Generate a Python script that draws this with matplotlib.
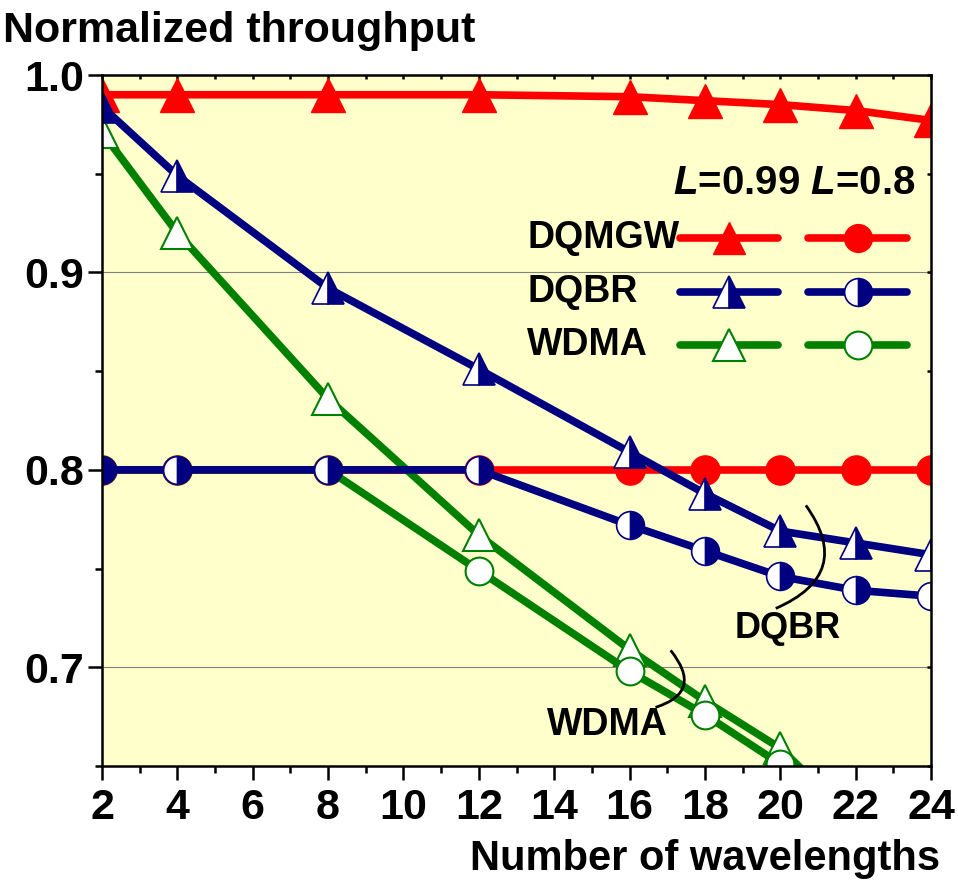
import matplotlib
matplotlib.use("Agg")
import matplotlib.pyplot as plt
from matplotlib.path import Path
from matplotlib.patches import PathPatch
from matplotlib.ticker import MultipleLocator

plt.rcParams['font.family'] = ['Liberation Sans', 'DejaVu Sans']
plt.rcParams['font.weight'] = 'bold'
plt.rcParams['mathtext.fontset'] = 'custom'
plt.rcParams['mathtext.it'] = 'Liberation Sans:italic:bold'
plt.rcParams['mathtext.rm'] = 'Liberation Sans:bold'

# ---------------- data ----------------
x_all = [2, 4, 8, 12, 16, 18, 20, 22, 24]
dqmgw_099 = [0.990, 0.990, 0.990, 0.990, 0.989, 0.987, 0.985, 0.982, 0.977]
dqmgw_08 = [0.800, 0.800, 0.800, 0.800, 0.800, 0.800, 0.800, 0.800, 0.800]
dqbr_099 = [0.984, 0.949, 0.892, 0.851, 0.809, 0.788, 0.769, 0.763, 0.757]
dqbr_08 = [0.800, 0.800, 0.800, 0.800, 0.772, 0.759, 0.746, 0.739, 0.736]
x_wdma = [2, 4, 8, 12, 16, 18, 20, 22]
wdma_099 = [0.971, 0.920, 0.836, 0.767, 0.709, 0.683, 0.659, 0.622]
wdma_08 = [0.800, 0.800, 0.800, 0.749, 0.698, 0.676, 0.651, 0.626]

x_ticks = [2, 4, 6, 8, 10, 12, 14, 16, 18, 20, 22, 24]
y_ticks = [0.7, 0.8, 0.9, 1.0]
series_names = ["DQMGW", "DQBR", "WDMA"]

RED = '#FF0000'
NAVY = '#000080'
GREEN = '#008000'
BG = '#FFFFCC'

fig = plt.figure(figsize=(9.58, 8.81), dpi=100)
ax = fig.add_axes([102/958, 1-766/881, 829/958, 691/881])
ax.set_facecolor(BG)

LW = 5.5
MS_T = 23.5
MS_C = 20

# DQMGW
ax.plot(x_all, dqmgw_08, color=RED, lw=LW, marker='o', ms=MS_C + 1,
        mfc=RED, mec=RED, zorder=3)
ax.plot(x_all, dqmgw_099, color=RED, lw=LW, marker='^', ms=MS_T + 1,
        mfc=RED, mec=RED, zorder=3)
# WDMA
ax.plot(x_wdma, wdma_099, color=GREEN, lw=LW, marker='^', ms=MS_T,
        mfc='white', mec=GREEN, mew=1.5, zorder=4)
ax.plot(x_wdma, wdma_08, color=GREEN, lw=LW, marker='o', ms=MS_C,
        mfc='white', mec=GREEN, mew=1.5, zorder=4)
# DQBR
ax.plot(x_all, dqbr_099, color=NAVY, lw=LW, marker='^', ms=MS_T,
        fillstyle='right', mfc=NAVY, mfcalt='white', mec=NAVY, mew=1.2, zorder=5)
ax.plot(x_all, dqbr_08, color=NAVY, lw=LW, marker='o', ms=MS_C,
        fillstyle='right', mfc=NAVY, mfcalt='white', mec=NAVY, mew=1.2, zorder=5)

ax.set_xlim(2, 24)
ax.set_ylim(0.65, 1.0)
ax.set_xticks(x_ticks)
ax.set_xticklabels([str(v) for v in x_ticks])
ax.set_yticks(y_ticks)
ax.set_yticklabels([f"{v:.1f}" for v in y_ticks])
ax.xaxis.set_minor_locator(MultipleLocator(1))
ax.yaxis.set_minor_locator(MultipleLocator(0.05))

ax.grid(axis='y', which='major', color='#808080', lw=0.8, zorder=1)
ax.set_axisbelow(True)

for s in ax.spines.values():
    s.set_linewidth(1.8)
    s.set_color('black')
    s.set_zorder(10)

ax.tick_params(axis='both', which='major', labelsize=31, width=1.8, length=10,
               direction='out', pad=6)
ax.tick_params(axis='both', which='minor', width=1.8, length=5, direction='out')
ax.tick_params(axis='y', pad=3)
ax.tick_params(which='both', top=True, right=True)
for t in ax.xaxis.get_major_ticks() + ax.xaxis.get_minor_ticks():
    t.tick2line.set_marker(matplotlib.lines.TICKDOWN)
    t.tick2line.set_markersize(3)
for t in ax.yaxis.get_major_ticks() + ax.yaxis.get_minor_ticks():
    t.tick2line.set_marker(matplotlib.lines.TICKLEFT)
    t.tick2line.set_markersize(3)

# axis titles
fig.text(3/958, 1-42/881, "Normalized throughput", fontsize=31,
         fontweight='bold', ha='left', va='baseline')
fig.text(940/958, 1-870/881, "Number of wavelengths", fontsize=30,
         fontweight='bold', ha='right', va='baseline')

# manual legend
rows_y = [0.764, 0.686, 0.609]
col1 = (0.697, 0.815)
col2 = (0.852, 0.971)
styles_099 = [
    dict(color=RED, marker='^', ms=MS_T, mfc=RED, mec=RED),
    dict(color=NAVY, marker='^', ms=MS_T, fillstyle='right', mfc=NAVY,
         mfcalt='white', mec=NAVY, mew=1.2),
    dict(color=GREEN, marker='^', ms=MS_T, mfc='white', mec=GREEN, mew=1.5),
]
styles_08 = [
    dict(color=RED, marker='o', ms=MS_C, mfc=RED, mec=RED),
    dict(color=NAVY, marker='o', ms=MS_C, fillstyle='right', mfc=NAVY,
         mfcalt='white', mec=NAVY, mew=1.2),
    dict(color=GREEN, marker='o', ms=MS_C, mfc='white', mec=GREEN, mew=1.5),
]
for name, yy, s1, s2 in zip(series_names, rows_y, styles_099, styles_08):
    ax.plot(col1, [yy, yy], transform=ax.transAxes, lw=LW,
            solid_capstyle='round', clip_on=False, zorder=6, color=s1['color'])
    ax.plot([(col1[0]+col1[1])/2], [yy], transform=ax.transAxes, ls='none',
            clip_on=False, zorder=7, **s1)
    ax.plot(col2, [yy, yy], transform=ax.transAxes, lw=LW,
            solid_capstyle='round', clip_on=False, zorder=6, color=s2['color'])
    ax.plot([(col2[0]+col2[1])/2], [yy], transform=ax.transAxes, ls='none',
            clip_on=False, zorder=7, **s2)
    ax.text(0.513, yy, name, transform=ax.transAxes, fontsize=27,
            fontweight='bold', ha='left', va='center', zorder=8)

ax.text(0.981, 0.844, r"$L$=0.99 $L$=0.8", transform=ax.transAxes,
        fontsize=29, fontweight='bold', ha='right', va='center', zorder=8)

# annotations with curved brackets
arc_dqbr = Path([(20.68, 0.782), (21.98, 0.7473), (19.88, 0.7298)],
                [Path.MOVETO, Path.CURVE3, Path.CURVE3])
arc_wdma = Path([(17.09, 0.7086), (17.98, 0.6875), (16.69, 0.6797)],
                [Path.MOVETO, Path.CURVE3, Path.CURVE3])
for p in (arc_dqbr, arc_wdma):
    ax.add_patch(PathPatch(p, fc='none', ec='black', lw=2, zorder=8))
ax.text(20.2, 0.7195, "DQBR", fontsize=26, fontweight='bold',
        ha='center', va='center', zorder=8)
ax.text(15.4, 0.6707, "WDMA", fontsize=27, fontweight='bold',
        ha='center', va='center', zorder=8)

fig.savefig("out.png", dpi=100, facecolor='white')
